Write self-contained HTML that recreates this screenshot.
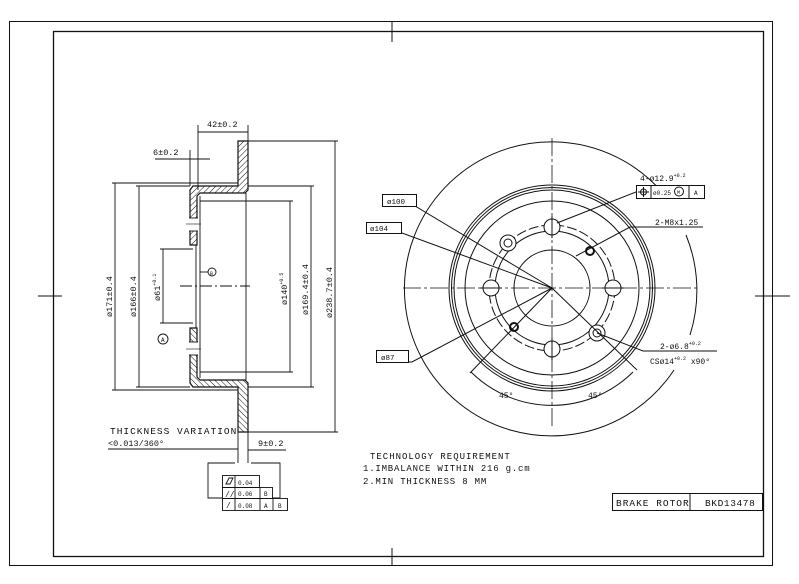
<!DOCTYPE html>
<html><head><meta charset="utf-8"><style>
html,body{margin:0;padding:0;background:#fff;}
svg{display:block;}
text{font-family:"Liberation Mono","DejaVu Sans Mono",monospace;fill:#111;}
</style></head><body>
<svg width="799" height="584" viewBox="0 0 799 584" xmlns="http://www.w3.org/2000/svg">
<defs>
<pattern id="h" width="4" height="4" patternUnits="userSpaceOnUse" patternTransform="rotate(45)">
<rect width="4" height="4" fill="#fff"/><line x1="0" y1="0" x2="0" y2="4" stroke="#111" stroke-width="1"/>
</pattern>
</defs>
<g fill="none" stroke="#111" stroke-width="1">
<!-- frames -->
<rect x="9.5" y="21.5" width="763" height="544"/>
<rect x="53.5" y="31.5" width="710" height="525" stroke-width="1.3"/>
<line x1="392" y1="21" x2="392" y2="42"/>
<line x1="392" y1="548" x2="392" y2="565"/>
<line x1="38" y1="296" x2="62" y2="296"/>
<line x1="755" y1="296" x2="790" y2="296"/>
<!-- title block -->
<rect x="612.5" y="493.5" width="150" height="17"/>
<line x1="690" y1="493" x2="690" y2="510"/>
</g>
<text x="616" y="506" font-size="9.5" letter-spacing="1">BRAKE ROTOR</text>
<text x="705" y="506" font-size="9.5" letter-spacing="0.6">BKD13478</text>

<!-- SECTION VIEW -->
<g stroke="#111" stroke-width="1.2" fill="url(#h)">
<path d="M238,141 L248,141 L248,190 L245,193 L200,193 L197,196 L197,245 L190,245 L190,190 L193,186 L238,186 Z"/>
<path transform="translate(0,573) scale(1,-1)" d="M238,141 L248,141 L248,190 L245,193 L200,193 L197,196 L197,245 L190,245 L190,190 L193,186 L238,186 Z"/>
</g>
<g fill="#fff" stroke="none">
<rect x="189" y="218" width="9" height="13"/>
<rect x="189" y="342" width="9" height="13"/>
</g>
<g fill="none" stroke="#111" stroke-width="0.9">
<line x1="189" y1="218" x2="198" y2="218"/><line x1="189" y1="231" x2="198" y2="231"/>
<line x1="189" y1="342" x2="198" y2="342"/><line x1="189" y1="355" x2="198" y2="355"/>
<line x1="186" y1="224" x2="201" y2="224" stroke-width="0.6"/>
<line x1="186" y1="349" x2="201" y2="349" stroke-width="0.6"/>
<line x1="196" y1="245" x2="196" y2="328"/>
<line x1="200" y1="196" x2="200" y2="378"/>
<line x1="246" y1="193" x2="246" y2="380"/>
<line x1="180" y1="286" x2="250" y2="286" stroke-dasharray="12,3,2,3"/>
<!-- ext lines -->
<line x1="112" y1="183" x2="238" y2="183"/><line x1="112" y1="390" x2="238" y2="390"/>
<line x1="136" y1="186" x2="190" y2="186"/><line x1="136" y1="387" x2="190" y2="387"/>
<line x1="160" y1="249" x2="193" y2="249"/><line x1="160" y1="323" x2="193" y2="323"/>
<line x1="200" y1="201" x2="293" y2="201"/><line x1="200" y1="372" x2="293" y2="372"/>
<line x1="248" y1="186" x2="314" y2="186"/><line x1="248" y1="387" x2="314" y2="387"/>
<line x1="248" y1="141" x2="338" y2="141"/><line x1="248" y1="432" x2="338" y2="432"/>
<line x1="115" y1="183" x2="115" y2="390"/>
<line x1="139" y1="186" x2="139" y2="387"/>
<line x1="163" y1="249" x2="163" y2="323"/>
<line x1="290" y1="201" x2="290" y2="372"/>
<line x1="311" y1="186" x2="311" y2="387"/>
<line x1="335" y1="141" x2="335" y2="432"/>
<!-- 42 / 6 -->
<line x1="198" y1="125" x2="198" y2="190"/>
<line x1="248" y1="125" x2="248" y2="141"/>
<line x1="198" y1="132" x2="248" y2="132"/>
<line x1="155" y1="159" x2="210" y2="159"/>
<line x1="190" y1="150" x2="190" y2="186"/>
<!-- A B -->
<circle cx="212" cy="272" r="4"/>
<line x1="200" y1="272" x2="208" y2="272"/>
<circle cx="163" cy="339" r="5"/>
<!-- bottom -->
<line x1="238" y1="432" x2="238" y2="463"/>
<line x1="248" y1="432" x2="248" y2="463"/>
<line x1="108" y1="449" x2="238" y2="449"/>
<line x1="248" y1="450" x2="286" y2="450"/>
<polyline points="222,498 208,498 208,463 235,463"/>
<polyline points="273,498 280,498 280,463 251,463"/>
<rect x="222.5" y="475.5" width="37" height="12"/>
<rect x="222.5" y="487.5" width="50" height="11"/>
<rect x="222.5" y="498.5" width="65" height="12"/>
<line x1="235" y1="475" x2="235" y2="510"/>
<line x1="260" y1="487" x2="260" y2="510"/>
<line x1="273" y1="498" x2="273" y2="510"/>
<path d="M226,484 L229,478 L233,478 L230,484 Z"/>
</g>
<g font-size="8.5">
<text x="207" y="127">42±0.2</text>
<text x="153" y="155">6±0.2</text>
<text transform="translate(112,317) rotate(-90)">ø171±0.4</text>
<text transform="translate(136,317) rotate(-90)">ø166±0.4</text>
<text transform="translate(160,301) rotate(-90)">ø61<tspan font-size="5" dy="-4">+0.1</tspan></text>
<text transform="translate(287,305) rotate(-90)">ø140<tspan font-size="5" dy="-4">+0.5</tspan></text>
<text transform="translate(308,315) rotate(-90)">ø169.4±0.4</text>
<text transform="translate(332,318) rotate(-90)">ø238.7±0.4</text>
<text x="210" y="275" font-size="5">B</text>
<text x="161" y="342" font-size="6">A</text>
<text x="110" y="434" font-size="9.5" letter-spacing="1">THICKNESS VARIATION</text>
<text x="108" y="446">&lt;0.013/360°</text>
<text x="258" y="446">9±0.2</text>
<text x="238" y="485" font-size="6">0.04</text>
<text x="225" y="497" font-size="8">//</text>
<text x="238" y="496" font-size="6">0.06</text>
<text x="264" y="496" font-size="6">B</text>
<text x="226" y="508" font-size="8">/</text>
<text x="238" y="508" font-size="6">0.08</text>
<text x="264" y="508" font-size="6">A</text>
<text x="278" y="508" font-size="6">B</text>
<text x="370" y="459" font-size="9" letter-spacing="1">TECHNOLOGY REQUIREMENT</text>
<text x="363" y="471" font-size="9" letter-spacing="0.8">1.IMBALANCE WITHIN 216 g.cm</text>
<text x="363" y="484" font-size="9" letter-spacing="0.8">2.MIN THICKNESS 8 MM</text>
</g>

<!-- FRONT VIEW -->
<g fill="none" stroke="#111" stroke-width="1">
<path d="M 662,192 A 147 147 0 1 0 674,370"/>
<path d="M 686,235 A 147 147 0 0 1 690,335"/>
<circle cx="552" cy="288" r="103"/>
<circle cx="552" cy="288" r="100.5"/>
<circle cx="552" cy="288" r="98"/>
<circle cx="552" cy="288" r="87"/>
<circle cx="552" cy="288" r="63" stroke-dasharray="10,3"/>
<circle cx="552" cy="288" r="57"/>
<circle cx="552" cy="288" r="38"/>
<line x1="403" y1="288" x2="700" y2="288" stroke-dasharray="18,3,3,3" stroke-width="0.8"/>
<line x1="552" y1="138" x2="552" y2="428" stroke-dasharray="18,3,3,3" stroke-width="0.8"/>
<g fill="#fff">
<circle cx="552" cy="227" r="8"/><circle cx="491" cy="288" r="8"/>
<circle cx="613" cy="288" r="8"/><circle cx="552" cy="349" r="8"/>
<circle cx="508" cy="243" r="8"/><circle cx="597" cy="333" r="8"/>
</g>
<circle cx="508" cy="243" r="4"/><circle cx="597" cy="333" r="4"/>
<circle cx="590" cy="251" r="4" stroke-width="2"/><circle cx="514" cy="327" r="4" stroke-width="2"/>
<line x1="552" y1="216" x2="552" y2="238"/><line x1="480" y1="288" x2="502" y2="288"/>
<line x1="602" y1="288" x2="624" y2="288"/><line x1="552" y1="338" x2="552" y2="360"/>
<!-- leaders -->
<polyline points="382,206 415,206 552,288"/>
<polyline points="366,233 402,233 552,288"/>
<polyline points="376,362 412,362 552,288"/>
<line x1="552" y1="288" x2="470" y2="373"/>
<line x1="552" y1="288" x2="637" y2="370"/>
<path d="M 471,372 A 115 115 0 0 0 633,372"/>
<line x1="636" y1="192" x2="557" y2="223"/>
<polyline points="703,227 630,227 576,256"/>
<polyline points="717,351 643,351 597,333"/>
<rect x="382.5" y="194.5" width="34" height="12" fill="#fff"/>
<rect x="366.5" y="222.5" width="35" height="11" fill="#fff"/>
<rect x="376.5" y="350.5" width="32" height="12" fill="#fff"/>
<rect x="636.5" y="185.5" width="68" height="13" fill="#fff"/>
<line x1="651" y1="185" x2="651" y2="198"/><line x1="689" y1="185" x2="689" y2="198"/>
<circle cx="643.5" cy="192" r="3"/><line x1="638" y1="192" x2="649" y2="192"/><line x1="643.5" y1="187" x2="643.5" y2="197"/>
<circle cx="679" cy="191.5" r="4.5"/>
</g>
<g font-size="8">
<text x="387" y="204" font-size="7.5">ø100</text>
<text x="370" y="231" font-size="7.5">ø104</text>
<text x="381" y="360" font-size="7.5">ø87</text>
<text x="640" y="181">4-ø12.9<tspan font-size="5" dy="-4">+0.2</tspan></text>
<text x="653" y="195" font-size="6">ø0.25</text>
<text x="677" y="194" font-size="5">M</text>
<text x="694" y="195" font-size="6">A</text>
<text x="655" y="225">2-M8x1.25</text>
<text x="660" y="349">2-ø6.8<tspan font-size="5" dy="-4">+0.2</tspan></text>
<text x="650" y="364">CSø14<tspan font-size="5" dy="-4">+0.2</tspan><tspan dy="4"> x90°</tspan></text>
<text x="499" y="398">45°</text>
<text x="588" y="398">45°</text>
</g>
</svg>
</body></html>
